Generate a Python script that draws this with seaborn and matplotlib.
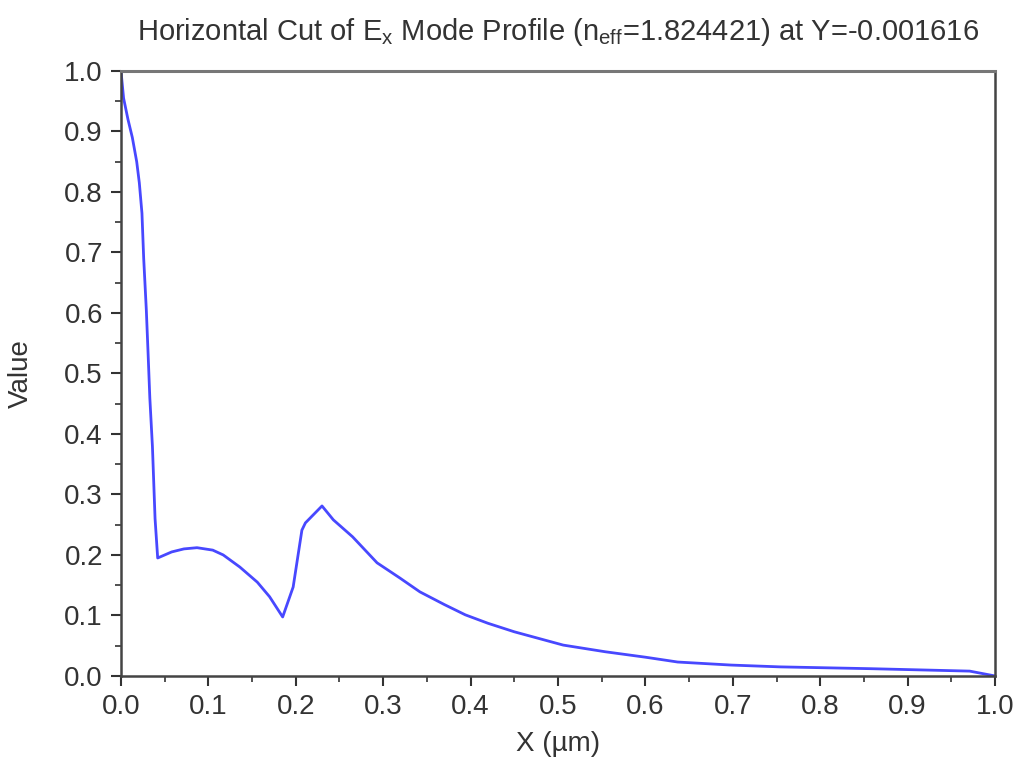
import matplotlib
matplotlib.use("Agg")
import matplotlib.pyplot as plt
from matplotlib.ticker import MultipleLocator
import seaborn as sns
import pandas as pd

# Data
x_um = [0.000, 0.003, 0.008, 0.013, 0.018, 0.021, 0.024, 0.026, 0.029, 0.031, 0.033, 0.036,
        0.039, 0.042, 0.050, 0.058, 0.072, 0.087, 0.105, 0.117, 0.136, 0.156, 0.170, 0.185,
        0.197, 0.207, 0.211, 0.230, 0.243, 0.265, 0.293, 0.319, 0.342, 0.370, 0.394, 0.420,
        0.450, 0.506, 0.554, 0.600, 0.637, 0.698, 0.754, 0.858, 0.971, 1.000]
value = [1.000, 0.955, 0.920, 0.890, 0.850, 0.815, 0.765, 0.690, 0.605, 0.534, 0.460, 0.379,
         0.260, 0.195, 0.200, 0.205, 0.210, 0.212, 0.208, 0.200, 0.180, 0.155, 0.131, 0.0975,
         0.147, 0.241, 0.253, 0.281, 0.258, 0.230, 0.187, 0.162, 0.139, 0.118, 0.101, 0.087,
         0.073, 0.051, 0.040, 0.031, 0.023, 0.018, 0.015, 0.012, 0.008, 0.000]
x_ticks = [0.0, 0.1, 0.2, 0.3, 0.4, 0.5, 0.6, 0.7, 0.8, 0.9, 1.0]
y_ticks = [0.0, 0.1, 0.2, 0.3, 0.4, 0.5, 0.6, 0.7, 0.8, 0.9, 1.0]

df = pd.DataFrame({"x": x_um, "value": value})

sns.set_theme(style="white")
plt.rcParams["font.family"] = ["Liberation Sans", "DejaVu Sans"]
plt.rcParams["mathtext.fontset"] = "custom"
plt.rcParams["mathtext.rm"] = "Liberation Sans"
plt.rcParams["mathtext.it"] = "Liberation Sans:italic"

fig = plt.figure(figsize=(10.2, 7.69), dpi=100)
ax = fig.add_axes([0.1186, 0.121, 0.9755 - 0.1186, 0.9077 - 0.121])

sns.lineplot(data=df, x="x", y="value", sort=False, ax=ax, color="#4848ff", linewidth=2)

ax.set_xlim(0, 1)
ax.set_ylim(0, 1)
ax.set_xticks(x_ticks)
ax.set_yticks(y_ticks)
ax.set_xticklabels([f"{t:.1f}" for t in x_ticks])
ax.set_yticklabels([f"{t:.1f}" for t in y_ticks])
ax.xaxis.set_minor_locator(MultipleLocator(0.05))
ax.yaxis.set_minor_locator(MultipleLocator(0.05))
ax.tick_params(which="major", direction="out", length=7, width=1.5, color="#333333",
               labelsize=20, labelcolor="#333333", bottom=True, left=True, pad=6)
ax.tick_params(which="minor", direction="out", length=4, width=1.2, color="#333333",
               bottom=True, left=True)
for s in ax.spines.values():
    s.set_visible(True)
    s.set_color("#444444")
    s.set_linewidth(1.8)
ax.spines["top"].set_color("#777777")
ax.spines["top"].set_linewidth(2.2)

ax.set_xlabel("X (µm)", fontsize=20, color="#333333", labelpad=8)
ax.set_ylabel("Value", fontsize=20, color="#333333")
ax.set_title(r"Horizontal Cut of E$_\mathregular{x}$ Mode Profile (n$_\mathregular{eff}$=1.824421) at Y=-0.001616",
             fontsize=21, color="#333333", pad=22)
ax.yaxis.set_label_coords(-0.1, 0.5)

fig.savefig("out.png", dpi=100, facecolor="white")
